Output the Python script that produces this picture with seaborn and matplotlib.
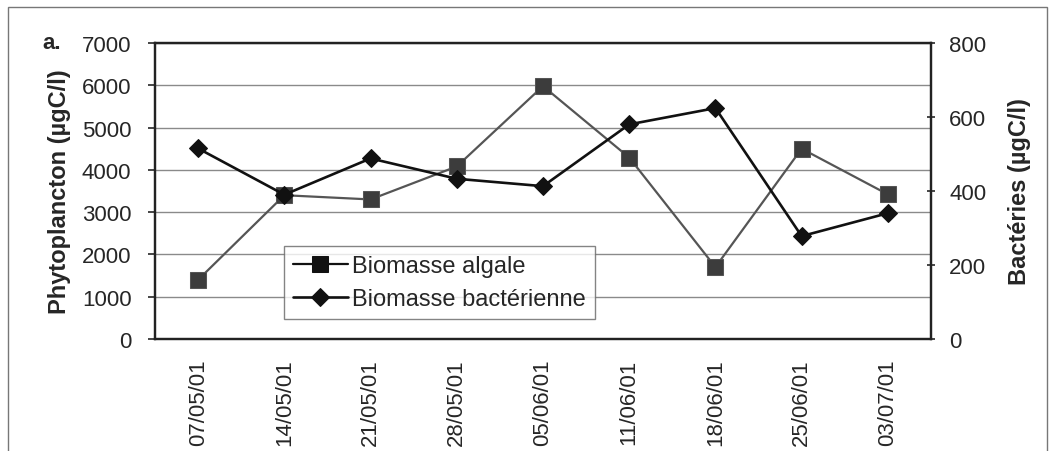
import matplotlib
matplotlib.use("Agg")
import matplotlib.pyplot as plt
import numpy as np
import pandas as pd
import seaborn as sns
from matplotlib.patches import Rectangle

# ----------------------------
# Data
# ----------------------------
DATES = ["07/05/01", "14/05/01", "21/05/01", "28/05/01", "05/06/01",
         "11/06/01", "18/06/01", "25/06/01", "03/07/01"]
ALGAL = [1400, 3400, 3300, 4080, 5980, 4290, 1700, 4500, 3420]
BACTERIA = [515, 390, 488, 433, 413, 580, 624, 278, 340]

sns.set_style("white")
plt.rcParams["font.family"] = ["Liberation Sans", "DejaVu Sans"]

df = pd.DataFrame({"pos": np.arange(len(DATES)), "date": DATES,
                   "algal": ALGAL, "bact": BACTERIA})

fig = plt.figure(figsize=(10.51, 4.52), dpi=100)
ax = fig.add_axes([0.1475, 0.2478, 0.7383, 0.6549])
ax2 = ax.twinx()

sns.lineplot(data=df, x="pos", y="algal", ax=ax, color="#555555", lw=1.6,
             marker="s", markersize=12, markerfacecolor="#3c3c3c",
             markeredgecolor="#555555", label="Biomasse algale", legend=False)
sns.lineplot(data=df, x="pos", y="bact", ax=ax2, color="#111111", lw=1.9,
             marker="D", markersize=9, markerfacecolor="#111111",
             markeredgecolor="#111111", label="Biomasse bactérienne", legend=False)

ax.set_xlim(-0.5, len(DATES) - 0.5)
ax.set_ylim(0, 7000)
ax2.set_ylim(0, 800)
ax.set_yticks(np.arange(0, 7001, 1000))
ax2.set_yticks(np.arange(0, 801, 200))
ax.yaxis.grid(True, color="#8a8a8a", lw=1.0)
ax.set_axisbelow(True)

ax.set_xticks(df["pos"])
ax.set_xticklabels(DATES, rotation=90, fontsize=16)
ax.set_xticks(np.arange(-0.5, len(DATES)), minor=True)
ax.tick_params(axis="x", which="major", length=0, pad=14)
ax.tick_params(axis="x", which="minor", length=5, width=1, direction="out", color="#555555")
ax.tick_params(axis="y", labelsize=16, length=5, width=1.2, direction="out", pad=12)
ax2.tick_params(axis="y", labelsize=16, length=6, width=1.2, direction="inout", pad=10)

ax.set_xlabel("")
ax.set_ylabel("Phytoplancton (µgC/l)", fontsize=17, fontweight="bold", labelpad=8)
ax2.set_ylabel("Bactéries (µgC/l)", fontsize=17, fontweight="bold", labelpad=16)

for a in (ax, ax2):
    for s in a.spines.values():
        s.set_color("#222222")
        s.set_linewidth(1.6)

h1, l1 = ax.get_legend_handles_labels()
h2, l2 = ax2.get_legend_handles_labels()
leg = ax2.legend(h1 + h2, l1 + l2, loc="lower left", bbox_to_anchor=(0.166, 0.066),
                 fontsize=17, frameon=True, fancybox=False, edgecolor="#666666",
                 handlelength=2.3, borderpad=0.4, labelspacing=0.45, handletextpad=0.2,
                 borderaxespad=0)
leg.get_frame().set_linewidth(1.0)
for h in leg.legend_handles:
    h.set_color("#111111")
    h.set_markerfacecolor("#111111")
    h.set_markeredgecolor("#111111")

fig.text(0.04, 0.9027, "a.", fontsize=16, fontweight="bold", va="center")
fig.patches.append(Rectangle((0.008, -0.1), 0.988, 1.082, transform=fig.transFigure,
                             fill=False, edgecolor="#777777", lw=1.0))

fig.savefig("out.png", dpi=100)
